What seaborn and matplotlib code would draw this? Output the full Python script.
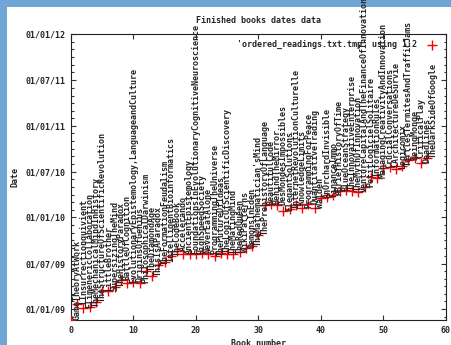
import numpy as np
import pandas as pd
import matplotlib
matplotlib.use("Agg")
import matplotlib.pyplot as plt
import matplotlib.dates as mdates
from matplotlib.patches import Rectangle
import seaborn as sns

sns.set_style("ticks")
plt.rcParams["font.family"] = ["DejaVu Sans Mono"]

# finish date of each book (book 0 = start of the log)
finished = [
    "2008-11-18", "2009-01-21", "2009-01-05", "2009-01-09", "2009-01-29",
    "2009-03-14", "2009-03-14", "2009-03-30", "2009-04-26", "2009-04-14",
    "2009-04-18", "2009-04-14", "2009-06-01", "2009-05-12", "2009-06-25",
    "2009-07-07", "2009-07-31", "2009-08-20", "2009-08-08", "2009-08-08",
    "2009-08-08", "2009-08-12", "2009-08-08", "2009-07-31", "2009-08-12",
    "2009-08-08", "2009-08-08", "2009-08-16", "2009-09-01", "2009-09-09",
    "2009-10-23", "2010-02-19", "2010-02-23", "2010-02-19", "2010-01-26",
    "2010-02-03", "2010-02-19", "2010-02-07", "2010-02-23", "2010-02-07",
    "2010-03-19", "2010-03-23", "2010-03-31", "2010-04-16", "2010-04-20",
    "2010-04-16", "2010-04-12", "2010-05-02", "2010-06-10", "2010-06-06",
    "2010-07-16", "2010-07-20", "2010-07-12", "2010-07-24", "2010-08-17",
    "2010-08-25", "2010-08-05", "2010-08-25",
]

# titles of books 1..58 (label sits at the date the book was started)
titles = [
    "GameTheoryAtWork", "LInsurrectionquivient", "ElimenericCollaboration",
    "TheMechanicalMindInHistory", "TheStructureOfScientificRevolution",
    "LittleBrother", "SupersizingTheMind", "TheHistoryParadox",
    "BattleOfCognition", "EvolutionaryEpistemology,LanguageandCulture",
    "OriginsOfGenius", "PhilosophicalDarwinism", "TheDiamondAge",
    "ThisIsAParadox", "TheFormationFeudalism", "IntelligentBioinformatics",
    "TheCodeBook", "Accelerando", "AncientEpistemology",
    "FoundationsInEvolutionaryCognitiveNeuroscience", "HighSpeedSociety",
    "NeverEatAlone", "ProgrammingTheUniverse", "TheFutureOfIdeas",
    "TheLogicOfScientificDiscovery", "TheMatingMind", "TheRedQueen",
    "WikiPatterns", "DemonsInEden", "TheMathematician'sMind",
    "ThePrehistoryOfLanguage", "BeautifulCode", "BehindTheMirror",
    "DesMondesImpossibles", "ElegantSolutions", "InternetRevolutionCulturelle",
    "KnowledgeLimits", "ProgrammingForPeace", "QuantitativeTrading", "Walden",
    "AnOrchardInvisible", "FinanceImmo", "ABriefHistoryOfTime",
    "BlueOceanStrategy", "TheInnovativeEnterprise", "TheMythOfInnovation",
    "VentureCapitalAndTheFinanceOfInnovation", "PetitLogicielSolitaire",
    "InformationRules", "ManagingCreativityAndInnovation",
    "CrucialConversations", "LArchitectureDeSurvie", "Logicomix",
    "TurtlesTermitesAndTrafficJams", "BeingMonge", "CriticalPlay",
    "Deadlines", "TheDarkSideOfGoogle",
]

book = np.arange(len(finished))
dates = pd.to_datetime(finished)
df = pd.DataFrame({"book": book, "date": dates})

fig = plt.figure(figsize=(4.52, 3.45), dpi=100)
fig.patch.set_facecolor("#6fa6d6")
fig.patches.append(Rectangle((7 / 452, 0), 1, 338 / 345, transform=fig.transFigure,
                             facecolor="white", edgecolor="none", zorder=-10))
ax = fig.add_axes([71 / 452, 25 / 345, 375 / 452, 286 / 345])
ax.set_facecolor("white")

sns.scatterplot(data=df, x="book", y="date", ax=ax, marker="+", color="red",
                s=42, linewidth=1, label="'ordered_readings.txt.tmp' using 1:2",
                zorder=3)

for i, t in enumerate(titles, start=1):
    ax.text(i, dates[i - 1], t, rotation=90, ha="center", va="bottom",
            fontsize=6, fontweight="bold", clip_on=False, zorder=4)

ax.set_xlim(0, 60)
ax.set_ylim(dates[0], pd.Timestamp("2012-01-01"))
ax.set_xticks(np.arange(0, 61, 10))
ax.yaxis.set_major_locator(mdates.MonthLocator(bymonth=[1, 7]))
ax.yaxis.set_minor_locator(mdates.MonthLocator())
ax.yaxis.set_major_formatter(mdates.DateFormatter("%d/%m/%y"))
ax.tick_params(which="both", direction="in", top=True, right=True,
               labelsize=6, width=0.8, color="#333333")
ax.tick_params(which="major", length=3.5, pad=4)
ax.tick_params(which="minor", length=1.8)
for lbl in ax.get_xticklabels() + ax.get_yticklabels():
    lbl.set_fontweight("bold")
for s in ax.spines.values():
    s.set_linewidth(0.8)
    s.set_color("#222222")

ax.set_title("Finished books dates data", fontsize=6, fontweight="bold", pad=8)
ax.set_xlabel("Book number", fontsize=6, fontweight="bold", labelpad=3)
ax.set_ylabel("Date", fontsize=6, fontweight="bold", labelpad=4)
ax.legend(loc="upper right", frameon=False, markerfirst=False, fontsize=6,
          prop={"weight": "bold", "size": 6},
          handletextpad=0.8, borderaxespad=0.3)

fig.savefig("out.png", dpi=100, facecolor=fig.get_facecolor())
